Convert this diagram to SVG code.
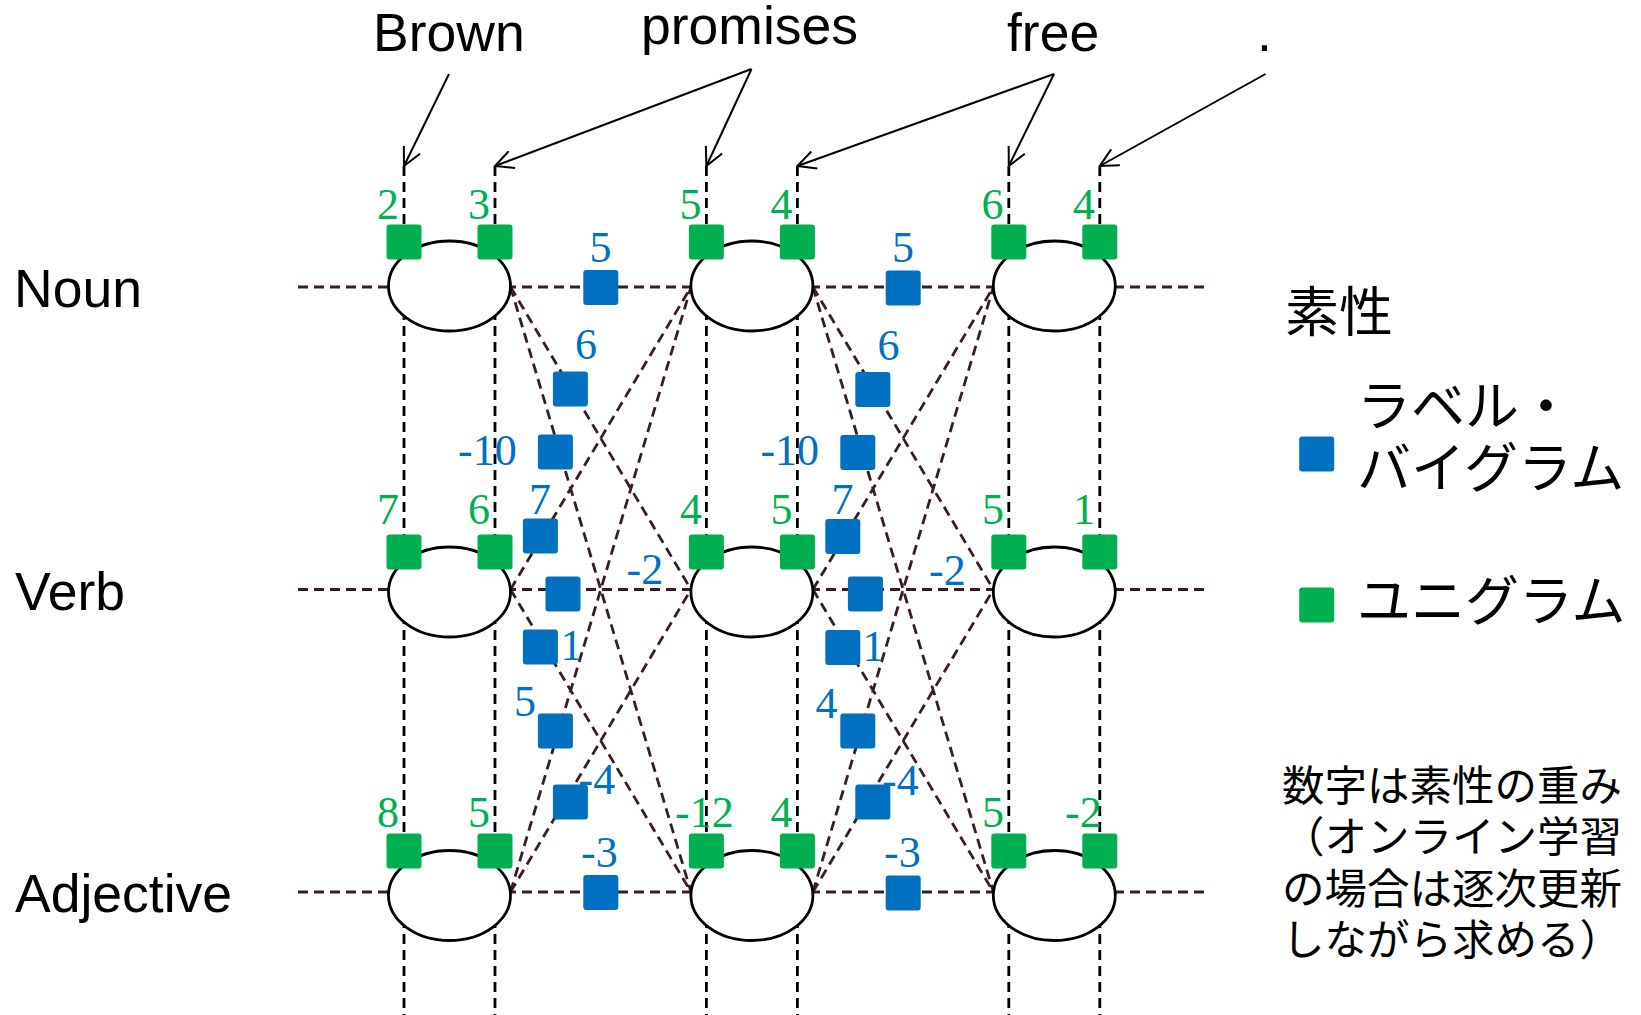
<svg xmlns="http://www.w3.org/2000/svg" width="1641" height="1015" viewBox="0 0 1641 1015">
<defs>
<style>
.word{font-family:"Liberation Sans",Arial,sans-serif;font-size:53.5px;fill:#000}
.num{font-family:"Liberation Serif","Times New Roman",serif;font-size:44px}
.g{fill:#00B050}
.b{fill:#0070C0}
.jp{font-family:"Noto Sans CJK JP",sans-serif;fill:#000}
.vl{stroke:#000;stroke-width:2.8;stroke-dasharray:10 6;fill:none}
.tr{stroke:#3A1C28;stroke-width:2.8;stroke-dasharray:10 6;fill:none}
.ar{stroke:#000;stroke-width:2;fill:none;marker-end:url(#arr)}
.node{fill:#fff;stroke:#000;stroke-width:2.8}
</style>
<marker id="arr" viewBox="0 0 20 20" refX="19" refY="10" markerWidth="20" markerHeight="20" markerUnits="userSpaceOnUse" orient="auto">
<path d="M1,1 L19,10 L1,19" fill="none" stroke="#000" stroke-width="2"/>
</marker>
<rect id="sq" x="-17.5" y="-17.5" width="35" height="35" rx="3"/>
</defs>
<rect width="1641" height="1015" fill="#fff"/>

<g id="words">
<text class="word" x="373" y="51">Brown</text>
<text class="word" x="641" y="44">promises</text>
<text class="word" x="1007" y="51">free</text>
<text class="word" x="1257" y="51">.</text>
</g>

<g id="row-labels">
<text class="word" x="14" y="307">Noun</text>
<text class="word" x="15" y="610">Verb</text>
<text class="word" x="15" y="912">Adjective</text>
</g>

<g id="connectors">
<path class="ar" d="M449,74 L404,166"/>
<path class="ar" d="M751.5,69 L495,166"/>
<path class="ar" d="M751.5,69 L706.4,166"/>
<path class="ar" d="M1054,74 L797.4,166"/>
<path class="ar" d="M1054,74 L1008.8,166"/>
<path class="ar" d="M1265.5,74 L1099.8,166"/>
<path class="vl" d="M404,166V1015M495,166V1015M706.4,166V1015M797.4,166V1015M1008.8,166V1015M1099.8,166V1015"/>
<path class="tr" d="M298,287H1204M298,589.5H1204M298,892H1204"/>
<path class="tr" d="M510.5,287L691,589.5M510.5,287L691,892M510.5,589.5L691,287M510.5,589.5L691,892M510.5,892L691,287M510.5,892L691,589.5"/>
<path class="tr" d="M812.9,287L993.4,589.5M812.9,287L993.4,892M812.9,589.5L993.4,287M812.9,589.5L993.4,892M812.9,892L993.4,287M812.9,892L993.4,589.5"/>
</g>

<g id="nodes">
<g id="n-brown-noun"><ellipse class="node" cx="449.5" cy="286" rx="61" ry="45"/></g>
<g id="n-brown-verb"><ellipse class="node" cx="449.5" cy="592" rx="61" ry="45"/></g>
<g id="n-brown-adj"><ellipse class="node" cx="449.5" cy="895.5" rx="61" ry="45"/></g>
<g id="n-promises-noun"><ellipse class="node" cx="751.9" cy="286" rx="61" ry="45"/></g>
<g id="n-promises-verb"><ellipse class="node" cx="751.9" cy="592" rx="61" ry="45"/></g>
<g id="n-promises-adj"><ellipse class="node" cx="751.9" cy="895.5" rx="61" ry="45"/></g>
<g id="n-free-noun"><ellipse class="node" cx="1054.3" cy="286" rx="61" ry="45"/></g>
<g id="n-free-verb"><ellipse class="node" cx="1054.3" cy="592" rx="61" ry="45"/></g>
<g id="n-free-adj"><ellipse class="node" cx="1054.3" cy="895.5" rx="61" ry="45"/></g>
</g>

<g id="unigram-features">
<g class="g">
<use href="#sq" x="404" y="242"/><use href="#sq" x="495" y="242"/>
<use href="#sq" x="706.4" y="242"/><use href="#sq" x="797.4" y="242"/>
<use href="#sq" x="1008.8" y="242"/><use href="#sq" x="1099.8" y="242"/>
<use href="#sq" x="404" y="552"/><use href="#sq" x="495" y="552"/>
<use href="#sq" x="706.4" y="552"/><use href="#sq" x="797.4" y="552"/>
<use href="#sq" x="1008.8" y="552"/><use href="#sq" x="1099.8" y="552"/>
<use href="#sq" x="404" y="851"/><use href="#sq" x="495" y="851"/>
<use href="#sq" x="706.4" y="851"/><use href="#sq" x="797.4" y="851"/>
<use href="#sq" x="1008.8" y="851"/><use href="#sq" x="1099.8" y="851"/>
</g>
<g class="num g">
<text x="377" y="218.5">2</text><text x="468" y="218.5">3</text>
<text x="679.5" y="218.5">5</text><text x="770.5" y="218.5">4</text>
<text x="981.5" y="218.5">6</text><text x="1073" y="218.5">4</text>
<text x="377" y="523.5">7</text><text x="468" y="523.5">6</text>
<text x="680" y="523.5">4</text><text x="770.5" y="523.5">5</text>
<text x="982" y="524">5</text><text x="1073" y="524">1</text>
<text x="377" y="826.5">8</text><text x="468" y="826.5">5</text>
<text x="675" y="826.5">-12</text><text x="770.5" y="826.5">4</text>
<text x="982" y="826.5">5</text><text x="1065" y="826.5">-2</text>
</g>
</g>

<g id="bigram-features">
<g class="b">
<use href="#sq" x="600.8" y="287.5"/><use href="#sq" x="570.4" y="389"/>
<use href="#sq" x="555.4" y="452"/><use href="#sq" x="540.4" y="536"/>
<use href="#sq" x="563" y="594"/><use href="#sq" x="540.4" y="647"/>
<use href="#sq" x="555.4" y="731"/><use href="#sq" x="570.4" y="802"/>
<use href="#sq" x="600.8" y="892.5"/>
<use href="#sq" x="903.2" y="288"/><use href="#sq" x="872.8" y="389.5"/>
<use href="#sq" x="857.8" y="452.5"/><use href="#sq" x="842.8" y="536.5"/>
<use href="#sq" x="865.4" y="594"/><use href="#sq" x="842.8" y="647.5"/>
<use href="#sq" x="857.8" y="731"/><use href="#sq" x="872.8" y="802"/>
<use href="#sq" x="903.2" y="893"/>
</g>
<g class="num b">
<text x="589.5" y="262">5</text><text x="575" y="359">6</text>
<text x="458" y="464.5">-10</text><text x="529" y="513.5">7</text>
<text x="626.5" y="584">-2</text><text x="560.5" y="660">1</text>
<text x="514" y="716">5</text><text x="578.5" y="794">-4</text>
<text x="581" y="867">-3</text>
<text x="892" y="262">5</text><text x="877.4" y="359.5">6</text>
<text x="760.4" y="465">-10</text><text x="831.4" y="514">7</text>
<text x="929" y="584.5">-2</text><text x="862.4" y="660.5">1</text>
<text x="815.5" y="718">4</text><text x="882" y="794.5">-4</text>
<text x="884" y="867">-3</text>
</g>
</g>

<g id="legend">
<text class="jp" x="1285" y="332" font-size="54">素性</text>
<use href="#sq" x="1316.7" y="454" class="b"/>
<text class="jp" x="1357" y="426" font-size="54">ラベル・</text>
<text class="jp" x="1357" y="488" font-size="54">バイグラム</text>
<use href="#sq" x="1316.7" y="605" class="g"/>
<text class="jp" x="1357" y="621" font-size="54">ユニグラム</text>
</g>

<g id="note" class="jp" font-size="42.5">
<text x="1282" y="801">数字は素性の重み</text>
<text x="1282" y="852">（オンライン学習</text>
<text x="1282" y="904">の場合は逐次更新</text>
<text x="1282" y="955">しながら求める）</text>
</g>
</svg>
